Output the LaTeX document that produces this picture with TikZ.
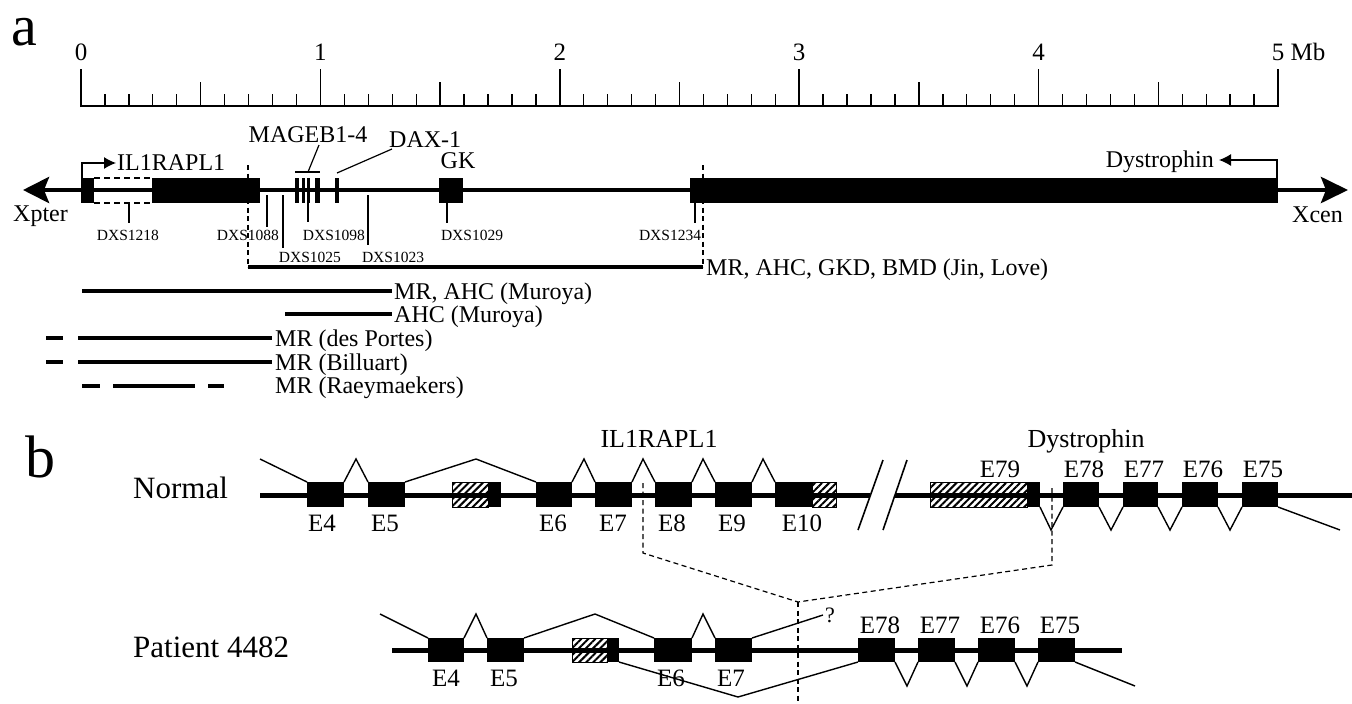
\documentclass[tikz,border=0pt]{standalone}
\usepackage{fontspec}
\setmainfont{Liberation Serif}
\usetikzlibrary{arrows.meta,patterns.meta}
\newcommand\myfs[1]{\fontsize{#1}{#1}\selectfont}
\begin{document}
\begin{tikzpicture}[x=1pt,y=-1pt,
  chr/.style={line width=4.5pt},
  chrb/.style={line width=5pt},
  spl/.style={line width=1.4pt},
  thinl/.style={line width=1.2pt},
  del/.style={line width=4pt},
  dsh/.style={line width=1.2pt, dash pattern=on 5pt off 3.5pt},
  hatch/.style={pattern={Lines[angle=45,distance=5pt,line width=2pt]}, draw=black, line width=1pt},
  lab/.style={inner sep=0pt, font=\myfs{24}},
  sml/.style={inner sep=0pt, font=\myfs{15.5}},
  num/.style={inner sep=0pt, font=\myfs{25}},
  exl/.style={inner sep=0pt, font=\myfs{25}},
  gen/.style={inner sep=0pt, font=\myfs{26}},
  big/.style={inner sep=0pt, font=\myfs{31}}
]
\useasboundingbox (0,0) rectangle (1352,704);

% ================= panel a =================
\node[anchor=base west, inner sep=0pt, font=\myfs{58}, text height=30pt] (la) at (11,45) {a};

% scale bar
\draw[line width=2pt] (81,106) -- (1278,106);
\foreach \i in {0,...,5} {\draw[line width=1.6pt] ({81+239.4*\i},107) -- ({81+239.4*\i},69);}
\foreach \m in {0,...,4} {
  \foreach \k in {1,2,3,4,6,7,8,9} {\draw[line width=1.3pt] ({81+239.4*\m+23.94*\k},106) -- ({81+239.4*\m+23.94*\k},94);}
  \draw[line width=1.3pt] ({81+239.4*\m+119.7},106) -- ({81+239.4*\m+119.7},82);
}
\foreach \i in {0,...,4} {\node[num, anchor=base] (s\i) at ({81+239.4*\i},60) {\i};}
\node[num, anchor=base west] (s5) at (1271.75,60) {5 Mb};

% chromosome
\draw[chr, {Stealth[length=26pt,width=26pt,inset=5pt]}-{Stealth[length=27pt,width=26pt,inset=5pt]}] (23,190) -- (1348,190);
\node[lab, anchor=base west] (xpter) at (13,221) {Xpter};
\node[lab, anchor=base east] (xcen) at (1343,222) {Xcen};

% IL1RAPL1
\fill (81,178) rectangle (94,203);
\draw[line width=1.1pt, dash pattern=on 6pt off 4pt] (94,178) -- (152,178) (94,203) -- (152,203);
\fill (152,178) rectangle (260,203);
\draw[line width=1.2pt, -{Latex[length=12pt,width=12pt]}] (82,178) |- (116,163);
\node[lab, anchor=base west] (il) at (117,170) {IL1RAPL1};

% MAGEB1-4
\fill (295,178) rectangle (299,203);
\fill (301.5,178) rectangle (304.5,203);
\fill (306.5,178) rectangle (310,203);
\fill (315,178) rectangle (320,203);
\draw[thinl] (295,172) -- (320,172);
\node[lab, anchor=base] (mage) at (308,142) {MAGEB1-4};
\draw[thinl] (308,172) -- (319,145);

% DAX-1
\fill (335,178) rectangle (339,203);
\node[lab, anchor=base west] (dax) at (389,147) {DAX-1};
\draw[thinl] (337,173) -- (392,149);

% GK
\fill (439,178) rectangle (463,203);
\node[lab, anchor=base] (gk) at (458,168) {GK};

% Dystrophin
\fill (690,178) rectangle (1278,203);
\draw[line width=1.2pt, -{Latex[length=12pt,width=12pt]}] (1277,178) |- (1219,160);
\node[lab, anchor=base east] (dys) at (1214,167) {Dystrophin};

% dashed breakpoints
\draw[dsh] (248,165) -- (248,267);
\draw[dsh] (703,165) -- (703,267);

% markers
\draw[thinl] (129,203) -- (129,223);
\node[sml, anchor=base] (m1) at (128,240) {DXS1218};
\draw[thinl] (267,195) -- (267,227);
\node[sml, anchor=base] (m2) at (248,240) {DXS1088};
\draw[thinl] (283,195) -- (283,248);
\node[sml, anchor=base] (m3) at (310,262) {DXS1025};
\draw[thinl] (308,203) -- (308,222);
\node[sml, anchor=base] (m4) at (334,240) {DXS1098};
\draw[thinl] (368,195) -- (368,245);
\node[sml, anchor=base] (m5) at (393,262) {DXS1023};
\draw[thinl] (447,203) -- (447,223);
\node[sml, anchor=base] (m6) at (472,240) {DXS1029};
\draw[thinl] (695,203) -- (695,223);
\node[sml, anchor=base] (m7) at (670,240) {DXS1234};

% deletions
\draw[del] (248,267) -- (703,267);
\node[lab, anchor=base west] (d1) at (706,275) {MR, AHC, GKD, BMD (Jin, Love)};
\draw[del] (82,291) -- (392,291);
\node[lab, anchor=base west] (d2) at (394,299) {MR, AHC (Muroya)};
\draw[del] (285,314) -- (392,314);
\node[lab, anchor=base west] (d3) at (394,322) {AHC (Muroya)};
\draw[del] (46,338) -- (63,338);
\draw[del] (78,338) -- (272,338);
\node[lab, anchor=base west] (d4) at (275,346) {MR (des Portes)};
\draw[del] (46,362) -- (63,362);
\draw[del] (78,362) -- (272,362);
\node[lab, anchor=base west] (d5) at (275,370) {MR (Billuart)};
\draw[del] (82,386) -- (100,386);
\draw[del] (113,386) -- (195,386);
\draw[del] (208,386) -- (224,386);
\node[lab, anchor=base west] (d6) at (275,393) {MR (Raeymaekers)};

% ================= panel b =================
\node[anchor=base west, inner sep=0pt, font=\myfs{60}] (lb) at (25,477) {b};
\node[big, anchor=base west] (nrm) at (133,498) {Normal};
\node[gen, anchor=base] (ilb) at (659,447) {IL1RAPL1};
\node[gen, anchor=base] (dysb) at (1086,447) {Dystrophin};

\draw[chrb] (260,495) -- (870,495);
\draw[chrb] (895,495) -- (1352,495);
\draw[line width=1.6pt] (858,530) -- (883,460) (883,530) -- (907,460);

\foreach \a/\b in {307/344, 368/405, 536/572, 595/632, 655/692, 715/752, 775/812, 488/501, 1027/1040, 1063/1099, 1123/1158, 1182/1218, 1242/1278}
  {\fill (\a,482) rectangle (\b,507);}
\draw[hatch] (452,482) rectangle (488,507);
\draw[hatch] (812,482) rectangle (836,507);
\draw[hatch] (930,482) rectangle (1027,507);

\draw[spl] (260,459) -- (307,482);
\draw[spl] (344,482) -- (356,459) -- (368,482);
\draw[spl] (405,482) -- (476,459) -- (536,482);
\draw[spl] (572,482) -- (584,459) -- (595,482);
\draw[spl] (632,482) -- (643,459) -- (655,482);
\draw[spl] (692,482) -- (703,459) -- (715,482);
\draw[spl] (752,482) -- (763,459) -- (775,482);
\draw[spl] (1040,507) -- (1051,530) -- (1063,507);
\draw[spl] (1099,507) -- (1111,530) -- (1123,507);
\draw[spl] (1158,507) -- (1170,530) -- (1182,507);
\draw[spl] (1218,507) -- (1230,530) -- (1242,507);
\draw[spl] (1278,507) -- (1340,530);

\foreach \x/\t in {322/E4, 385/E5, 553/E6, 613/E7, 672/E8, 732/E9, 802/E10}
  {\node[exl, anchor=base] at (\x,531) {\t};}
\foreach \x/\t in {1000/E79, 1084/E78, 1144/E77, 1203/E76, 1263/E75}
  {\node[exl, anchor=base] at (\x,477) {\t};}

% Patient
\node[big, anchor=base west] (pat) at (133,657) {Patient 4482};
\draw[chrb] (392,650) -- (1122,650);
\foreach \a/\b in {428/464, 487/524, 607/619, 654/692, 715/752, 858/895, 918/955, 978/1015, 1038/1075}
  {\fill (\a,638) rectangle (\b,662);}
\draw[hatch] (572,638) rectangle (607,662);

\draw[spl] (380,614) -- (428,638);
\draw[spl] (464,638) -- (476,614) -- (487,638);
\draw[spl] (524,638) -- (595,614) -- (654,638);
\draw[spl] (692,638) -- (703,614) -- (715,638);
\draw[spl] (752,638) -- (823,615);
\node[inner sep=0pt, font=\myfs{22}, anchor=base] (q) at (830,622) {?};
\draw[spl] (619,662) -- (738,697) -- (858,662);
\draw[spl] (895,662) -- (907,686) -- (918,662);
\draw[spl] (955,662) -- (967,686) -- (978,662);
\draw[spl] (1015,662) -- (1027,686) -- (1038,662);
\draw[spl] (1075,662) -- (1135,686);

\foreach \x/\t in {446/E4, 504/E5, 671/E6, 731/E7}
  {\node[exl, anchor=base] at (\x,686) {\t};}
\foreach \x/\t in {880/E78, 940/E77, 1000/E76, 1060/E75}
  {\node[exl, anchor=base] at (\x,633) {\t};}

% dashed junction
\coordinate (j1) at (643,483);
\coordinate (j2) at (643,553);
\coordinate (j3) at (798,602);
\coordinate (j4) at (1052,565);
\coordinate (j5) at (1052,488);
\coordinate (j6) at (798,704);
\draw[dsh] (j1) -- (j2) -- (j3) -- (j4) -- (j5);
\draw[dsh] (j3) -- (j6);
\end{tikzpicture}
\end{document}
